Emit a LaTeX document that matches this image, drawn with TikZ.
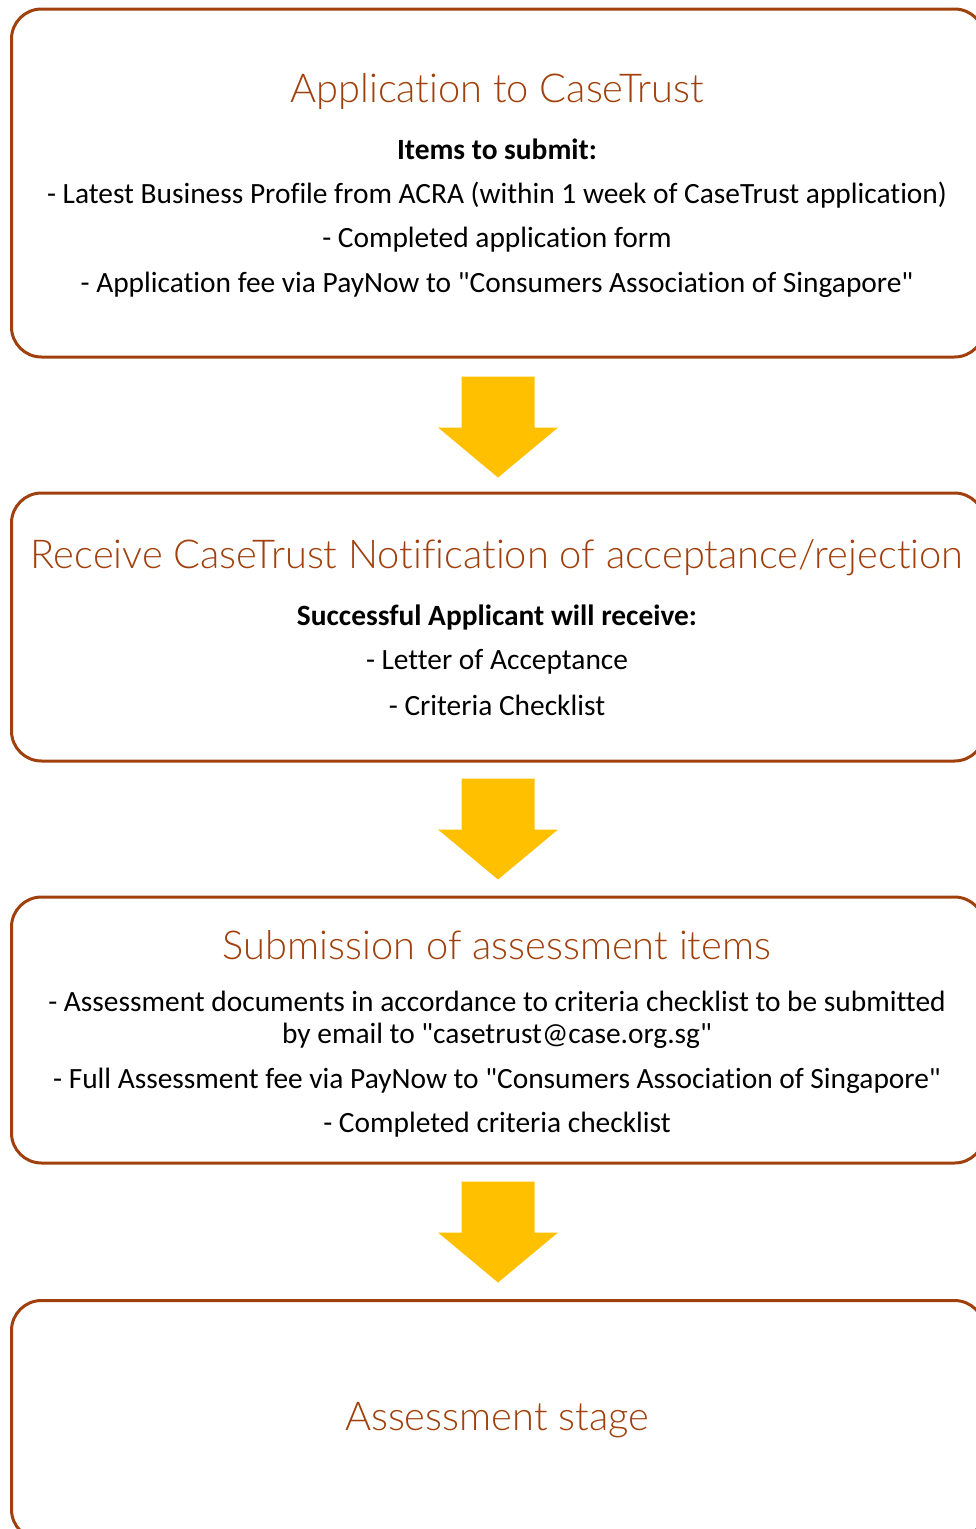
\documentclass[tikz,border=0pt]{standalone}
\usepackage{fontspec}
\setmainfont{Carlito}[Ligatures={TeXOff,CommonOff}]
\newfontfamily\titlefont{Lato Light}[Ligatures={TeXOff,CommonOff}]
\usetikzlibrary{calc}

\definecolor{rust}{HTML}{A0410D}
\definecolor{amber}{HTML}{FFC000}

\tikzset{
  stagebox/.style={draw=rust, line width=3pt, rounded corners=30pt,
    minimum width=973pt, inner sep=0pt},
  stagetitle/.style={text=rust, font=\titlefont\fontsize{39.8}{46}\selectfont},
  itemhead/.style={font=\fontsize{29.4}{32}\selectfont\bfseries},
  itemtext/.style={font=\fontsize{29.4}{32}\selectfont, align=center},
  pics/downarrow/.style={code={
    \fill[amber] (-36.5,0) -- (36.5,0) -- (36.5,51) -- (60,51)
      -- (0,101) -- (-60,51) -- (-36.5,51) -- cycle;}}
}

\begin{document}
\begin{tikzpicture}[x=1pt,y=-1pt]
    \useasboundingbox (0,0) rectangle (976,1529);
    \clip (0,0) rectangle (976,1529);

    % the four stages
    \node[stagebox, minimum height=348pt] (box1) at (498,183) {};
    \node[stagebox, minimum height=268pt] (box2) at (498,627) {};
    \node[stagebox, minimum height=266pt] (box3) at (498,1030) {};
    \node[stagebox, minimum height=239pt] (box4) at (498,1420) {};

    % arrows between them
    \pic at ($(box1.south)+(0,18)$) {downarrow};
    \pic at ($(box2.south)+(0,16)$) {downarrow};
    \pic at ($(box3.south)+(0,17)$) {downarrow};

    % stage 1
    \node[stagetitle] (t1) at (497,92) {Application to CaseTrust};
    \node[itemhead] (h1) at (497,149) {Items to submit:};
    \node[itemtext] (l11) at (497,195) {- Latest Business Profile from ACRA (within 1 week of CaseTrust application)};
    \node[itemtext] (l12) at (497,240) {- Completed application form};
    \node[itemtext] (l13) at (497,285) {- Application fee via PayNow to "Consumers Association of Singapore"};

    % stage 2
    \node[stagetitle] (t2) at (497,558) {Receive CaseTrust Notification of acceptance/rejection};
    \node[itemhead] (h2) at (497,617) {Successful Applicant will receive:};
    \node[itemtext] (l21) at (497,662) {- Letter of Acceptance};
    \node[itemtext] (l22) at (497,705) {- Criteria Checklist};

    % stage 3
    \node[stagetitle] (t3) at (497,945) {Submission of assessment items};
    \node[itemtext] (l31) at (497,1020) {- Assessment documents in accordance to criteria checklist to be submitted\\by email to "casetrust@case.org.sg"};
    \node[itemtext] (l32) at (497,1081) {- Full Assessment fee via PayNow to "Consumers Association of Singapore"};
    \node[itemtext] (l33) at (497,1125) {- Completed criteria checklist};

    % stage 4
    \node[stagetitle] (t4) at (497,1420) {Assessment stage};
\end{tikzpicture}
\end{document}
